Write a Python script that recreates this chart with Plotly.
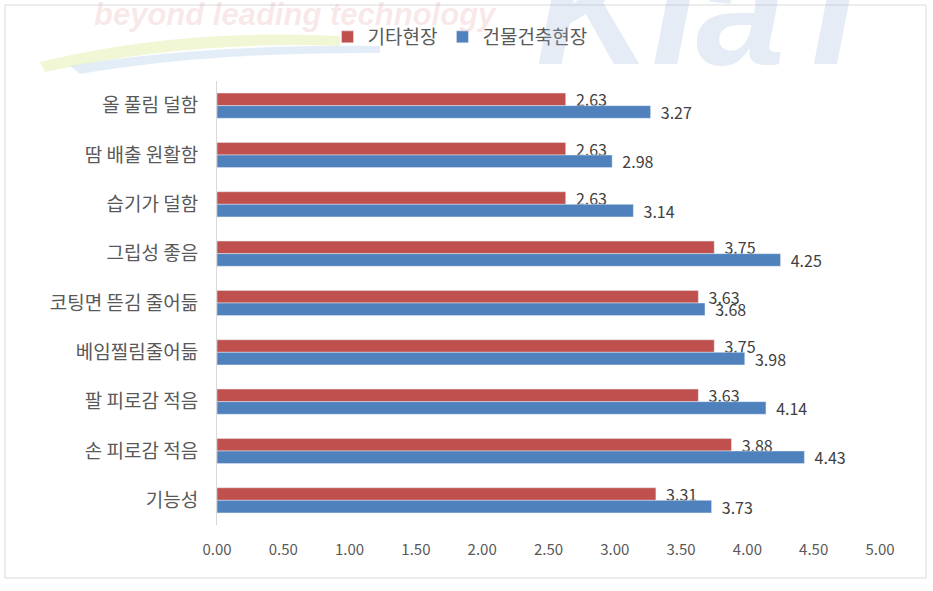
import plotly.graph_objects as go

categories = ["올 풀림 덜함", "땀 배출 원활함", "습기가 덜함", "그립성 좋음",
              "코팅면 뜯김 줄어듦", "베임찔림줄어듦", "팔 피로감 적음", "손 피로감 적음", "기능성"]
other_site = [2.63, 2.63, 2.63, 3.75, 3.63, 3.75, 3.63, 3.88, 3.31]
building_site = [3.27, 2.98, 3.14, 4.25, 3.68, 3.98, 4.14, 4.43, 3.73]
x_ticks = [0, 0.5, 1, 1.5, 2, 2.5, 3, 3.5, 4, 4.5, 5]

FONT = "Noto Sans CJK KR"
TXT = "#595959"
PAD = "\u00a0\u00a0"

fig = go.Figure()
fig.add_trace(go.Bar(
    y=categories, x=other_site, orientation="h", name="기타현장",
    marker=dict(color="#C0504D"),
    text=[PAD + f"{v:.2f}" for v in other_site], textposition="outside",
    textfont=dict(family=FONT, size=16, color="#404040"),
    constraintext="none", cliponaxis=False,
))
fig.add_trace(go.Bar(
    y=categories, x=building_site, orientation="h", name="건물건축현장",
    marker=dict(color="#4F81BD"),
    text=[PAD + f"{v:.2f}" for v in building_site], textposition="outside",
    textfont=dict(family=FONT, size=16, color="#404040"),
    constraintext="none", cliponaxis=False,
))

W, H = 933, 591
L, R, T, B = 217, 53, 81, 66
pw, ph = W - L - R, H - T - B

def px(xp):
    return (xp - L) / pw

def py(yp):
    return (H - B - yp) / ph

fig.update_layout(
    width=W, height=H,
    margin=dict(l=L, r=R, t=T, b=B),
    paper_bgcolor="white", plot_bgcolor="white",
    barmode="group", bargap=0.49, bargroupgap=0,
    font=dict(family=FONT, color=TXT),
    showlegend=True,
    legend=dict(orientation="h", x=px(460), y=py(37), xanchor="center", yanchor="middle",
                font=dict(family=FONT, size=19, color=TXT), traceorder="normal",
                itemwidth=30, bgcolor="rgba(0,0,0,0)"),
    xaxis=dict(range=[0, 5], tickvals=x_ticks, ticktext=[f"{v:.2f}" for v in x_ticks],
               showgrid=False, zeroline=False, showline=False,
               tickfont=dict(family=FONT, size=15, color=TXT), ticklabelstandoff=14),
    yaxis=dict(autorange="reversed", showgrid=False, zeroline=False,
               showline=True, linecolor="#D9D9D9", linewidth=1,
               tickfont=dict(family=FONT, size=19, color=TXT), ticklabelstandoff=14),
    shapes=[
        dict(type="rect", xref="paper", yref="paper", x0=px(5), x1=px(926), y0=py(578), y1=py(5),
             line=dict(color="#D9D9D9", width=1), fillcolor="rgba(0,0,0,0)", layer="below"),
        dict(type="path", xref="paper", yref="paper", layer="below",
             path=f"M {px(40)},{py(62)} Q {px(180)},{py(28)} {px(340)},{py(36)} L {px(340)},{py(46)} Q {px(190)},{py(40)} {px(45)},{py(72)} Z",
             fillcolor="rgba(225,235,160,0.45)", line=dict(width=0)),
        dict(type="path", xref="paper", yref="paper", layer="below",
             path=f"M {px(70)},{py(66)} Q {px(200)},{py(44)} {px(380)},{py(46)} L {px(380)},{py(53)} Q {px(210)},{py(52)} {px(80)},{py(74)} Z",
             fillcolor="rgba(190,215,240,0.45)", line=dict(width=0)),
    ],
    annotations=[
        dict(text="<b><i>beyond leading technology</i></b>", xref="paper", yref="paper",
             x=px(295), y=py(15), xanchor="center", yanchor="middle", showarrow=False,
             font=dict(family="Liberation Sans Narrow, Liberation Sans", size=31, color="rgba(230,150,150,0.22)")),
        dict(text="<b><i>KIaT</i></b>", xref="paper", yref="paper",
             x=px(715), y=py(100), xanchor="center", yanchor="bottom", showarrow=False,
             font=dict(family="Liberation Sans", size=160, color="rgba(150,180,215,0.25)")),
    ],
)

fig.write_html("out.html")
